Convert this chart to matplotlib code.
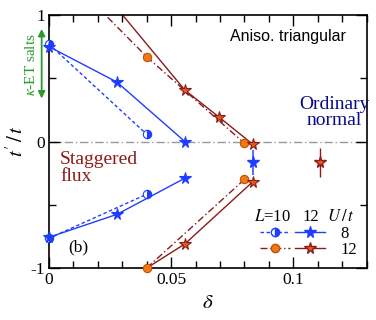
import numpy as np
import matplotlib.pyplot as plt
from matplotlib.lines import Line2D
from matplotlib.ticker import MultipleLocator

plt.rcParams['font.family'] = 'Liberation Serif'
plt.rcParams['mathtext.fontset'] = 'stix'

# L=10, U/t=8 (half-filled circles, dashed)
d10_u8_up = [0.0, 0.04]
t10_u8_up = [0.77, 0.057]
d10_u8_dn = [0.0, 0.04]
t10_u8_dn = [-0.765, -0.417]

# L=12, U/t=8 (blue stars, solid)
d12_u8_up = [0.0, 0.0278, 0.0556]
t12_u8_up = [0.75, 0.47, 0.0]
d12_u8_dn = [0.0, 0.0278, 0.0556]
t12_u8_dn = [-0.757, -0.576, -0.29]

# L=10, U/t=12 (orange circles, dash-dot)
d10_u12_up = [0.02, 0.04, 0.08]
t10_u12_up = [1.06, 0.67, -0.014]
d10_u12_dn = [0.08, 0.04]
t10_u12_dn = [-0.30, -1.0]

# L=12, U/t=12 (orange stars, solid dark red)
d12_u12_up = [0.0278, 0.0556, 0.0694, 0.0833]
t12_u12_up = [1.054, 0.407, 0.196, -0.02]
d12_u12_dn = [0.0833, 0.0556, 0.0278]
t12_u12_dn = [-0.32, -0.81, -1.15]

# isolated points with error bars
err_d = [0.0833, 0.1111]
err_t = [-0.165, -0.165]
err_e = [0.10, 0.115]

blue = '#1f3dff'
dred = '#8b1a1a'
orange = '#f07a10'
star_fill = '#e85a1a'

fig = plt.figure(figsize=(3.76, 3.2), dpi=100)
ax = fig.add_axes([0.1303, 0.1625, 0.8447, 0.7905])
ax.set_xlim(0, 0.13)
ax.set_ylim(-1, 1)

ax.axhline(0, color='#999999', lw=1, ls=(0, (6, 2, 1, 2)), zorder=1)


def draw(d, t, ls, color, mk, ms, mfc, mec, fillstyle='full'):
    d = np.array(d)
    t = np.array(t)
    ax.plot(d, t, ls=ls, color=color, lw=1.0, zorder=2)
    m = (t >= -1.0) & (t <= 1.0)
    ax.plot(d[m], t[m], ls='none', marker=mk, ms=ms, mfc=mfc, mec=mec,
            mew=0.8, fillstyle=fillstyle, markerfacecoloralt='white',
            clip_on=False, zorder=3)


for d, t in [(d10_u8_up, t10_u8_up), (d10_u8_dn, t10_u8_dn)]:
    draw(d, t, (0, (2.5, 1.8)), blue, 'o', 6, blue, blue, 'right')
for d, t in [(d12_u8_up, t12_u8_up), (d12_u8_dn, t12_u8_dn)]:
    draw(d, t, '-', blue, '*', 8.5, blue, blue)
for d, t in [(d10_u12_up, t10_u12_up), (d10_u12_dn, t10_u12_dn)]:
    draw(d, t, (0, (5, 2, 1, 2)), dred, 'o', 6, orange, '#c05010')
for d, t in [(d12_u12_up, t12_u12_up), (d12_u12_dn, t12_u12_dn)]:
    draw(d, t, '-', dred, '*', 8.5, star_fill, dred)

ax.errorbar(err_d[:1], err_t[:1], yerr=err_e[:1], fmt='*', ms=8.5, color='#4060ff',
            mfc=blue, mec=blue, elinewidth=1.3, capsize=0, zorder=3)
ax.errorbar(err_d[1:], err_t[1:], yerr=err_e[1:], fmt='*', ms=8.5, color=dred,
            mfc=star_fill, mec=dred, elinewidth=1.0, capsize=0, zorder=3)

# ticks
ax.xaxis.set_minor_locator(MultipleLocator(0.01))
ax.yaxis.set_minor_locator(MultipleLocator(0.5))
ax.set_xticks([0, 0.05, 0.1])
ax.set_xticklabels(['0', '0.05', '0.1'])
ax.set_yticks([-1, 0, 1])
ax.set_yticklabels(['-1', '0', '1'])
ax.tick_params(which='both', direction='in', top=True, right=True,
               labelsize=12.5, pad=3, width=1)
ax.tick_params(which='major', length=8)
ax.tick_params(which='minor', length=5)
for s in ax.spines.values():
    s.set_linewidth(1.2)

ax.set_xlabel(r'$\delta$', fontsize=15, labelpad=4)
ax.set_ylabel(r"$t'\,/\,t$", fontsize=15, labelpad=2)

# annotations
ax.text(0.1215, 0.83, 'Aniso. triangular', fontsize=11.5, family='Liberation Sans',
        ha='right', va='center')
ax.text(0.1167, 0.23, 'Ordinary\nnormal', fontsize=14, color='#0a0a8a',
        ha='center', va='center', linespacing=0.95)
ax.text(0.0045, -0.21, 'Staggered\nflux', fontsize=14, color=dred,
        ha='left', va='center', linespacing=0.95)
ax.text(0.008, -0.84, '(b)', fontsize=12.5, ha='left', va='center')

ax.annotate('', xy=(-0.003, 0.34), xytext=(-0.003, 0.89),
            xycoords='data', annotation_clip=False,
            arrowprops=dict(arrowstyle='<|-|>', color='#2a9a2a', lw=1.3,
                            mutation_scale=10, shrinkA=0, shrinkB=0))
ax.text(-0.0073, 0.61, r'$\kappa$-ET salts', fontsize=11, color='#2a9a2a',
        rotation=90, ha='center', va='center', clip_on=False)

# legend
handles = [
    Line2D([], [], ls=(0, (2.5, 1.8)), color=blue, lw=1, marker='o', ms=6,
           mfc=blue, mec=blue, fillstyle='right', markerfacecoloralt='white'),
    Line2D([], [], ls=(0, (5, 2, 1, 2)), color=dred, lw=1, marker='o', ms=6,
           mfc=orange, mec='#c05010'),
    Line2D([], [], ls='-', color=blue, lw=1, marker='*', ms=8.5, mfc=blue,
           mec=blue),
    Line2D([], [], ls='-', color=dred, lw=1, marker='*', ms=8.5,
           mfc=star_fill, mec=dred),
]
leg = ax.legend(handles, ['', '', '8', '12'], ncol=2, loc='center left',
                bbox_to_anchor=(0.664, 0.104), frameon=False, fontsize=12,
                handlelength=1.8, handletextpad=0.9, columnspacing=-0.57,
                labelspacing=0.0, borderpad=0, borderaxespad=0)
ax.text(0.0914, -0.60, r'$L$=10', fontsize=12, ha='center', va='center')
ax.text(0.107, -0.60, '12', fontsize=12, ha='center', va='center')
ax.text(0.1196, -0.60, r'$U\,/\,t$', fontsize=12, ha='center', va='center')

fig.savefig('out.png', dpi=100)
